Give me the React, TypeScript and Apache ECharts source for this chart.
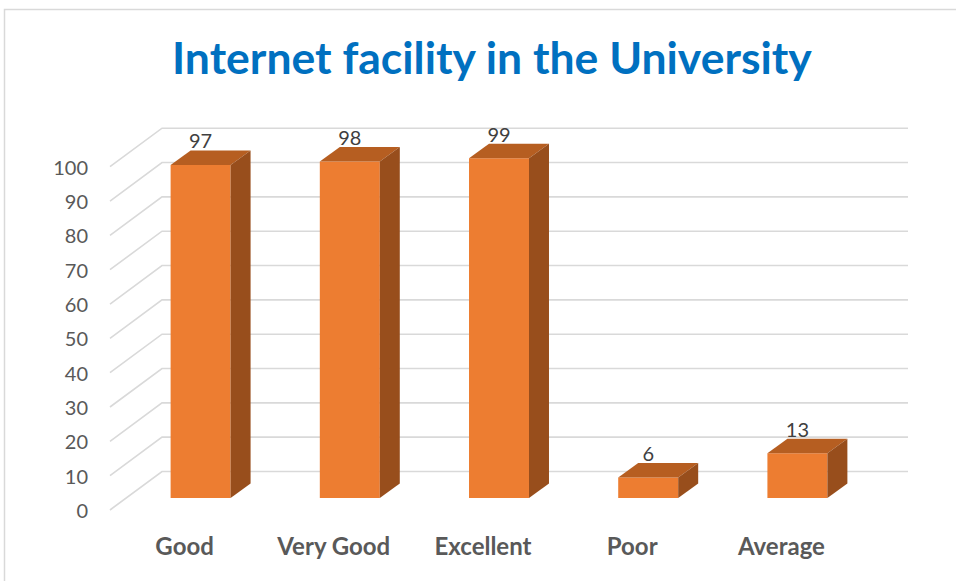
import React, { useEffect, useRef } from "react";
import * as echarts from "echarts";

const categories = ["Good", "Very Good", "Excellent", "Poor", "Average"];
const values = [97, 98, 99, 6, 13];
const yTicks = [0, 10, 20, 30, 40, 50, 60, 70, 80, 90, 100];
const titleText = "Internet facility in the University";

// projection constants (floor depth & bar depth offsets)
const WALL_DX = 52;
const WALL_DY = -38.5;
const BAR_OX = 16;
const BAR_OY = -12;
const BAR_DX = 20;
const BAR_DY = -14.5;

export default function App() {
  const ref = useRef<HTMLDivElement>(null);
  useEffect(() => {
    document.body.style.margin = "0";
    if (!ref.current) return;
    const chart = echarts.init(ref.current, null, { renderer: "svg" });
    const option: any = {
      animation: false,
      backgroundColor: "#ffffff",
      title: {
        text: titleText,
        left: 167,
        top: 29,
        textStyle: {
          fontFamily: "Lato",
          fontWeight: "bold",
          fontSize: 44.5,
          color: "#0070C0",
        },
      },
      graphic: [
        {
          type: "polyline",
          shape: { points: [[4.5, 581], [4.5, 9.5], [956, 9.5]] },
          style: { stroke: "#D9D9D9", lineWidth: 1.5, fill: "none" },
          silent: true,
        },
      ],
      grid: { left: 110, right: 100, top: 166.7, bottom: 71 },
      xAxis: {
        type: "category",
        data: categories,
        boundaryGap: true,
        axisLine: { show: false },
        axisTick: { show: false },
        axisLabel: {
          interval: 0,
          hideOverlap: false,
          margin: 23,
          fontFamily: "Lato",
          fontWeight: "bold",
          fontSize: 24,
          color: "#595959",
        },
      },
      yAxis: {
        type: "value",
        min: 0,
        max: 100,
        interval: 10,
        axisLine: { show: false },
        axisTick: { show: false },
        splitLine: { show: false },
        axisLabel: {
          margin: 22,
          fontFamily: "Lato",
          fontSize: 20,
          color: "#595959",
        },
      },
      series: [
        {
          type: "custom",
          z: 1,
          silent: true,
          data: yTicks.map((v) => [0, v]),
          renderItem: (params: any, api: any) => {
            const v = api.value(1);
            const y = api.coord([0, v])[1];
            const cs = params.coordSys;
            return {
              type: "polyline",
              shape: {
                points: [
                  [cs.x, y],
                  [cs.x + WALL_DX, y + WALL_DY],
                  [cs.x + cs.width + WALL_DX, y + WALL_DY],
                ],
              },
              style: { stroke: "#D9D9D9", lineWidth: 1.6, fill: "none" },
            };
          },
        },
        {
          type: "custom",
          z: 2,
          data: values.map((v, i) => [i, v]),
          renderItem: (params: any, api: any) => {
            const i = api.value(0);
            const v = api.value(1);
            const top0 = api.coord([i, v]);
            const base0 = api.coord([i, 0]);
            const bw = api.size([1, 0])[0] * 0.402;
            const left = top0[0] - bw / 2 + BAR_OX;
            const right = left + bw;
            const top = top0[1] + BAR_OY;
            const base = base0[1] + BAR_OY;
            return {
              type: "group",
              children: [
                {
                  type: "rect",
                  shape: { x: left, y: top, width: bw, height: base - top },
                  style: { fill: "#ED7D31" },
                },
                {
                  type: "polygon",
                  shape: {
                    points: [
                      [left, top],
                      [left + BAR_DX, top + BAR_DY],
                      [right + BAR_DX, top + BAR_DY],
                      [right, top],
                    ],
                  },
                  style: { fill: "#B65E21" },
                },
                {
                  type: "polygon",
                  shape: {
                    points: [
                      [right, top],
                      [right + BAR_DX, top + BAR_DY],
                      [right + BAR_DX, base + BAR_DY],
                      [right, base],
                    ],
                  },
                  style: { fill: "#984E1C" },
                },
                {
                  type: "text",
                  style: {
                    text: String(v),
                    x: left + bw / 2,
                    y: top + BAR_DY - 10,
                    align: "center",
                    verticalAlign: "middle",
                    font: "20px Lato",
                    fill: "#404040",
                  },
                },
              ],
            };
          },
        },
      ],
    };
    chart.setOption(option);
    return () => chart.dispose();
  }, []);
  return <div ref={ref} style={{ width: 956, height: 581 }} />;
}
